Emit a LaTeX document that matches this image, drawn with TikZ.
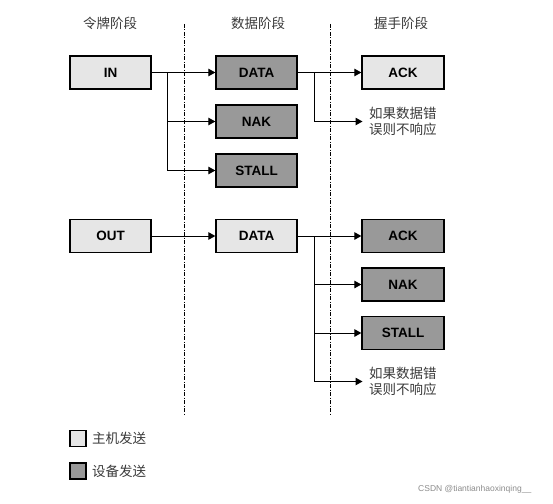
\documentclass[tikz,border=0pt]{standalone}
\usepackage{fontspec}
\setmainfont{Liberation Sans}
\newfontfamily\cjk{Noto Sans CJK SC}
\usetikzlibrary{arrows.meta}
\definecolor{hostfill}{HTML}{E6E6E6}
\definecolor{devfill}{HTML}{999999}
\definecolor{cjktext}{HTML}{3A3A3A}
\tikzset{
  pbox/.style={draw=black, line width=1.3pt, minimum width=81pt, minimum height=33pt, inner sep=0pt, font=\fontsize{13.5}{14}\selectfont\bfseries},
  hostbox/.style={pbox, fill=hostfill},
  devbox/.style={pbox, fill=devfill},
  arr/.style={line width=1pt, -{Triangle[length=7pt,width=7.5pt]}},
  ln/.style={line width=1pt},
  phase/.style={line width=0.9pt, dash pattern=on 4pt off 1.5pt on 1pt off 1.5pt},
  hdr/.style={font=\cjk\fontsize{13.5}{14}\selectfont, text=cjktext, inner sep=0pt},
  note/.style={font=\cjk\fontsize{13.5}{16.7}\selectfont, text=cjktext, align=left, inner xsep=6.5pt, inner ysep=0pt, anchor=west},
  legbox/.style={draw=black, line width=1.2pt, minimum width=16pt, minimum height=16pt, inner sep=0pt},
}
\begin{document}
\begin{tikzpicture}[x=1pt,y=-1pt]
\useasboundingbox (0,0) rectangle (553,503);
% headers
\node[hdr] (h1) at (110,23) {令牌阶段};
\node[hdr] (h2) at (258,23) {数据阶段};
\node[hdr] (h3) at (401,23) {握手阶段};
% phase separators
\coordinate (s1t) at (184,24); \coordinate (s1b) at (184,414);
\coordinate (s2t) at (330.5,24); \coordinate (s2b) at (330.5,414);
\draw[phase] (s1t) -- (s1b);
\draw[phase] (s2t) -- (s2b);
% IN transaction
\node[hostbox] (in) at (110.5,72.5) {IN};
\node[devbox] (d1) at (256.5,72.5) {DATA};
\node[devbox] (nak1) at (256.5,121.5) {NAK};
\node[devbox] (stall1) at (256.5,170.5) {STALL};
\node[hostbox, minimum width=82pt] (ack1) at (403,72.5) {ACK};
\node[note] (n1) at (362.5,121.5) {如果数据错\\误则不响应};
\coordinate (b1) at (167,72.5);
\coordinate (b2) at (314,72.5);
\draw[arr] (in.east) -- (d1.west);
\draw[arr] (b1) |- (nak1.west);
\draw[arr] (b1) |- (stall1.west);
\draw[arr] (d1.east) -- (ack1.west);
\draw[arr] (b2) |- (n1.west);
% OUT transaction
\node[hostbox] (out) at (110.5,236) {OUT};
\node[hostbox] (d2) at (256.5,236) {DATA};
\node[devbox, minimum width=82pt] (ack2) at (403,236) {ACK};
\node[devbox, minimum width=82pt] (nak2) at (403,284.5) {NAK};
\node[devbox, minimum width=82pt] (stall2) at (403,333) {STALL};
\node[note] (n2) at (362.5,381.5) {如果数据错\\误则不响应};
\coordinate (b3) at (314,236);
\draw[arr] (out.east) -- (d2.west);
\draw[arr] (d2.east) -- (ack2.west);
\draw[arr] (b3) |- (nak2.west);
\draw[arr] (b3) |- (stall2.west);
\draw[arr] (b3) |- (n2.west);
% legend
\node[legbox, fill=hostfill] (lg1) at (78,438.5) {};
\node[hdr, anchor=west] (lt1) at (92,438.5) {主机发送};
\node[legbox, fill=devfill] (lg2) at (78,471) {};
\node[hdr, anchor=west] (lt2) at (92,471) {设备发送};
% watermark
\node[font=\fontsize{8.5}{9}\selectfont, text=black!45, anchor=west, inner sep=0pt] (wm) at (418,489) {CSDN @tiantianhaoxinqing\_\_};
\end{tikzpicture}
\end{document}
